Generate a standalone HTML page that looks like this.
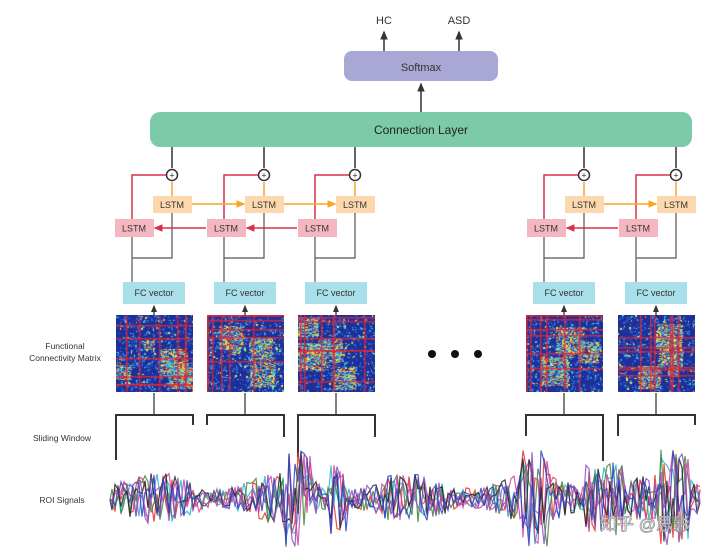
<!DOCTYPE html>
<html><head><meta charset="utf-8"><style>
body{margin:0;background:#fff;}
#w{position:relative;width:720px;height:560px;overflow:hidden;background:#fff;font-family:"Liberation Sans",sans-serif;}
svg{position:absolute;left:0;top:0}
canvas{position:absolute}
.t{font-family:"Liberation Sans","Noto Sans CJK SC",sans-serif;}
</style></head><body><div id="w">
<svg id="s" width="720" height="560" viewBox="0 0 720 560">
<defs>
<marker id="ak" markerWidth="6" markerHeight="6" refX="5" refY="3" orient="auto"><path d="M0,0.5 L6,3 L0,5.5z" fill="#333"/></marker>
<marker id="ao" markerWidth="6" markerHeight="6" refX="5" refY="3" orient="auto"><path d="M0,0.5 L6,3 L0,5.5z" fill="#f5a623"/></marker>
<marker id="ar" markerWidth="6" markerHeight="6" refX="5" refY="3" orient="auto"><path d="M0,0.5 L6,3 L0,5.5z" fill="#d9304a"/></marker>
</defs>
<text x="384" y="24" font-size="11" text-anchor="middle" class="t" fill="#333">HC</text>
<text x="459" y="24" font-size="11" text-anchor="middle" class="t" fill="#333">ASD</text>
<line x1="384" y1="52" x2="384" y2="32" stroke="#333" stroke-width="1.5" marker-end="url(#ak)"/>
<line x1="459" y1="52" x2="459" y2="32" stroke="#333" stroke-width="1.5" marker-end="url(#ak)"/>
<rect x="344" y="51" width="154" height="30" rx="8" fill="#a9a8d4"/>
<text x="421" y="71" font-size="11" text-anchor="middle" class="t" fill="#333">Softmax</text>
<line x1="421" y1="112" x2="421" y2="84" stroke="#333" stroke-width="1.5" marker-end="url(#ak)"/>
<rect x="150" y="112" width="542" height="35" rx="10" fill="#7ccaa8"/>
<text x="421" y="134" font-size="12" text-anchor="middle" class="t" fill="#222">Connection Layer</text>
<g id="cols"></g>
<circle cx="432" cy="354" r="4" fill="#111"/><circle cx="455" cy="354" r="4" fill="#111"/><circle cx="478" cy="354" r="4" fill="#111"/>
<text x="65" y="349" font-size="8.5" text-anchor="middle" class="t" fill="#333">Functional</text>
<text x="65" y="361" font-size="8.5" text-anchor="middle" class="t" fill="#333">Connectivity Matrix</text>
<text x="62" y="441" font-size="8.5" text-anchor="middle" class="t" fill="#333">Sliding Window</text>
<text x="62" y="503" font-size="8.5" text-anchor="middle" class="t" fill="#333">ROI Signals</text>
<g id="sig"></g>
<text x="645" y="530" font-size="17" text-anchor="middle" class="t" fill="#fff" stroke="#999" stroke-width="0.8">知乎 @思影</text>
</svg>
<script>
var cols=[{c:172,m:116},{c:264,m:207},{c:355,m:298},{c:584,m:526},{c:676,m:618}];
var br=[[460,425],[425,437],[457,437],[436,461],[436,425]];
var g='';
cols.forEach(function(o,i){
 var c=o.c,p=c-38,m=o.m;
 g+='<line x1="'+c+'" y1="147" x2="'+c+'" y2="168" stroke="#333" stroke-width="1.5"/>';
 g+='<circle cx="'+c+'" cy="175" r="5.5" fill="#fff" stroke="#333" stroke-width="1.5"/><text x="'+c+'" y="178.5" font-size="9" text-anchor="middle" fill="#333">+</text>';
 g+='<polyline points="'+(p-2)+',219 '+(p-2)+',175 '+(c-6)+',175" fill="none" stroke="#d9304a" stroke-width="1.5"/>';
 g+='<line x1="'+c+'" y1="197" x2="'+c+'" y2="182" stroke="#f5a623" stroke-width="1.5"/>';
 g+='<polyline points="'+c+',212 '+c+',258 '+(p-2)+',258" fill="none" stroke="#555" stroke-width="1.2"/>';
 g+='<line x1="'+(p-2)+'" y1="237" x2="'+(p-2)+'" y2="282" stroke="#555" stroke-width="1.2"/>';
 g+='<rect x="'+(c-19)+'" y="196" width="39" height="17" fill="#fcd8ae"/><text x="'+c+'" y="208" font-size="9" text-anchor="middle" fill="#333">LSTM</text>';
 g+='<rect x="'+(p-19)+'" y="219" width="39" height="18" fill="#f5b7bf"/><text x="'+p+'" y="231.5" font-size="9" text-anchor="middle" fill="#333">LSTM</text>';
 g+='<rect x="'+(m+7)+'" y="282" width="62" height="22" fill="#a9dfe8"/><text x="'+(m+38)+'" y="296" font-size="9" text-anchor="middle" fill="#333">FC vector</text>';
 g+='<line x1="'+(m+38)+'" y1="315" x2="'+(m+38)+'" y2="306" stroke="#222" stroke-width="1.2" marker-end="url(#ak)"/>';
 var mc=m+38;
 g+='<polyline points="'+mc+',393 '+mc+',415" stroke="#555" stroke-width="1.5" fill="none"/>';
 g+='<polyline points="'+m+','+br[i][0]+' '+m+',415 '+(m+77)+',415 '+(m+77)+','+br[i][1]+'" stroke="#333" stroke-width="2" fill="none"/>';
 if(i==1||i==2||i==4){
  var pc=cols[i-1].c;
  g+='<line x1="'+(pc+20)+'" y1="204" x2="'+(c-20)+'" y2="204" stroke="#f5a623" stroke-width="1.5" marker-end="url(#ao)"/>';
  g+='<line x1="'+(p-20)+'" y1="228" x2="'+(pc-38+21)+'" y2="228" stroke="#d9304a" stroke-width="1.5" marker-end="url(#ar)"/>';
 }
});
document.getElementById('cols').innerHTML=g;
var seed=7;function r(){seed=(seed*16807)%2147483647;return seed/2147483647;}
cols.forEach(function(o){
 var cv=document.createElement('canvas');cv.width=77;cv.height=77;cv.style.left=o.m+'px';cv.style.top='315px';
 var x=cv.getContext('2d');x.fillStyle='#1e2f9a';x.fillRect(0,0,77,77);
 var pal=['#2a6fd6','#39c0e0','#f5e04a','#f59a2a','#e0302a','#7fd6a0'];
 // blocks of warmer colour
 for(var b=0;b<4;b++){var bx=Math.floor(r()*55),by=Math.floor(r()*55),bw=10+Math.floor(r()*20);
  for(var k=0;k<bw*bw*0.7;k++){x.fillStyle=pal[Math.floor(r()*6)];x.fillRect(bx+Math.floor(r()*bw),by+Math.floor(r()*bw),2,1);}}
 for(var k=0;k<600;k++){var a=Math.floor(r()*77),bb=Math.floor(r()*77);x.fillStyle=pal[Math.floor(r()*r()*4)];x.fillRect(a,bb,1+Math.floor(r()*2),1+Math.floor(r()*2));}
 x.fillStyle='rgba(220,40,60,0.85)';
 for(var k=0;k<6;k++){var q=Math.floor(r()*75);x.fillRect(q,0,1.5,77);x.fillRect(0,q,77,1.5);}
 document.getElementById('w').appendChild(cv);
});
var colors=['#e0302a','#2ab0d0','#3a8a3a','#d040a0','#222','#8a50c0','#3040c0'];
var s='';
colors.forEach(function(cl){
 var d='M110,500';
 for(var xx=112;xx<=700;xx+=3){
  var amp=10+(Math.sin(xx*0.05)+1)*8;
  if(xx>285&&xx<312||xx>330&&xx<348||xx>520&&xx<548||xx>585&&xx<625||xx>660&&xx<690)amp+=24;
  d+=' L'+xx+','+(498+(r()*2-1)*amp).toFixed(1);
 }
 s+='<path d="'+d+'" fill="none" stroke="'+cl+'" stroke-width="1.2" opacity="0.85"/>';
});
document.getElementById('sig').innerHTML=s;
</script>
</div></body></html>
